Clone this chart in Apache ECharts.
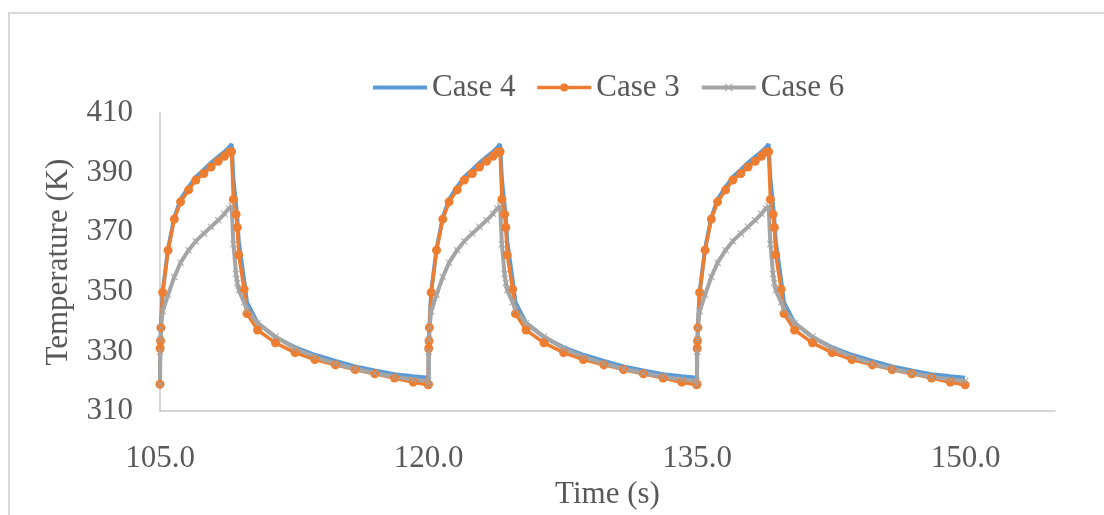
<!DOCTYPE html>
<html>
<head>
<meta charset="utf-8">
<script src="https://cdn.jsdelivr.net/npm/echarts/dist/echarts.min.js"></script>
<style>
  html, body { margin: 0; padding: 0; background: #fff; }
  #chart { width: 1104px; height: 515px; }
</style>
</head>
<body>
<div id="chart"></div>
<script>
// time (s), three heating cycles
const time = [
  105, 105.01, 105.03, 105.05, 105.15, 105.45, 105.8, 106.15, 106.6, 107, 107.45, 107.85, 108.25, 108.6, 108.85, 109,
  109.1, 109.25, 109.32, 109.4, 109.7, 109.86, 110.45, 111.45, 112.55, 113.65, 114.8, 115.9, 117, 118.1, 119.15, 119.98,
  120, 120.01, 120.03, 120.05, 120.15, 120.45, 120.8, 121.15, 121.6, 122, 122.45, 122.85, 123.25, 123.6, 123.85, 124,
  124.1, 124.25, 124.32, 124.4, 124.7, 124.86, 125.45, 126.45, 127.55, 128.65, 129.8, 130.9, 132, 133.1, 134.15, 134.98,
  135, 135.01, 135.03, 135.05, 135.15, 135.45, 135.8, 136.15, 136.6, 137, 137.45, 137.85, 138.25, 138.6, 138.85, 139,
  139.1, 139.25, 139.32, 139.4, 139.7, 139.86, 140.45, 141.45, 142.55, 143.65, 144.8, 145.9, 147, 148.1, 149.15, 149.98
]

const case4 = [
  319.0, 331.0, 333.5, 338.5, 350.0, 364.5, 375.0, 381.0, 385.2, 388.5, 391.0, 393.3, 395.3, 397.0, 398.4, 399.6,
  388.0, 379.0, 374.5, 367.0, 354.0, 346.5, 339.6, 334.8, 331.4, 328.9, 326.8, 325.0, 323.6, 322.4, 321.7, 321.2,
  319.0, 331.0, 333.5, 338.5, 350.0, 364.5, 375.0, 381.0, 385.2, 388.5, 391.0, 393.3, 395.3, 397.0, 398.4, 399.6,
  388.0, 379.0, 374.5, 367.0, 354.0, 346.5, 339.6, 334.8, 331.4, 328.9, 326.8, 325.0, 323.6, 322.4, 321.7, 321.2,
  319.0, 331.0, 333.5, 338.5, 350.0, 364.5, 375.0, 381.0, 385.2, 388.5, 391.0, 393.3, 395.3, 397.0, 398.4, 399.6,
  388.0, 379.0, 374.5, 367.0, 354.0, 346.5, 339.6, 334.8, 331.4, 328.9, 326.8, 325.0, 323.6, 322.4, 321.7, 321.2
]

const case3 = [
  319.0, 331.0, 333.5, 338.0, 349.8, 364.0, 374.4, 380.2, 384.2, 387.5, 389.7, 391.9, 393.8, 395.5, 396.8, 397.0,
  381.0, 376.0, 371.6, 362.4, 350.9, 342.7, 337.2, 332.9, 329.6, 327.3, 325.5, 323.9, 322.5, 321.1, 319.7, 318.8,
  319.0, 331.0, 333.5, 338.0, 349.8, 364.0, 374.4, 380.2, 384.2, 387.5, 389.7, 391.9, 393.8, 395.5, 396.8, 397.0,
  381.0, 376.0, 371.6, 362.4, 350.9, 342.7, 337.2, 332.9, 329.6, 327.3, 325.5, 323.9, 322.5, 321.1, 319.7, 318.8,
  319.0, 331.0, 333.5, 338.0, 349.8, 364.0, 374.4, 380.2, 384.2, 387.5, 389.7, 391.9, 393.8, 395.5, 396.8, 397.0,
  381.0, 376.0, 371.6, 362.4, 350.9, 342.7, 337.2, 332.9, 329.6, 327.3, 325.5, 323.9, 322.5, 321.1, 319.7, 318.8
]

const case6 = [
  319.0, 330.0, 334.0, 338.0, 343.5, 349.0, 355.0, 359.8, 364.0, 367.0, 369.6, 371.8, 374.0, 376.2, 378.0, 378.8,
  366.0, 356.0, 353.0, 350.5, 346.5, 344.0, 339.5, 335.0, 331.0, 328.2, 325.9, 324.2, 322.8, 321.5, 320.6, 320.1,
  319.0, 330.0, 334.0, 338.0, 343.5, 349.0, 355.0, 359.8, 364.0, 367.0, 369.6, 371.8, 374.0, 376.2, 378.0, 378.8,
  366.0, 356.0, 353.0, 350.5, 346.5, 344.0, 339.5, 335.0, 331.0, 328.2, 325.9, 324.2, 322.8, 321.5, 320.6, 320.1,
  319.0, 330.0, 334.0, 338.0, 343.5, 349.0, 355.0, 359.8, 364.0, 367.0, 369.6, 371.8, 374.0, 376.2, 378.0, 378.8,
  366.0, 356.0, 353.0, 350.5, 346.5, 344.0, 339.5, 335.0, 331.0, 328.2, 325.9, 324.2, 322.8, 321.5, 320.6, 320.1
]

const seriesNames = ['Case 4', 'Case 3', 'Case 6']
const xTicks = { min: 105, max: 155, step: 15 }
const yTicks = { min: 310, max: 410, step: 20 }

const font = 'Liberation Serif'
const textColor = '#595959'
const axisColor = '#c9c9c9'
const crossPath = 'path://M0,1L1,0L5,4L9,0L10,1L6,5L10,9L9,10L5,6L1,10L0,9L4,5Z'
// plain line for the legend of the series drawn without markers
const barePath = 'path://M0,0H54V4H0Z'

const pairs = vals => time.map((t, i) => [t, vals[i]])

const chart = echarts.init(document.getElementById('chart'), null, { renderer: 'canvas' })

chart.setOption({
  animation: false,
  backgroundColor: '#ffffff',
  textStyle: { fontFamily: font },
  graphic: [{
    type: 'rect',
    shape: { x: 9, y: 13, width: 1200, height: 600 },
    style: { fill: 'none', stroke: '#d9d9d9', lineWidth: 2 },
    silent: true
  }],
  legend: {
    data: [
      { name: seriesNames[0], icon: barePath },
      { name: seriesNames[1] },
      { name: seriesNames[2] }
    ],
    left: 368,
    top: 67,
    itemWidth: 54,
    itemHeight: 10,
    itemGap: 20,
    symbolKeepAspect: true,
    lineStyle: { width: 'inherit' },
    textStyle: { fontFamily: font, fontSize: 31, color: textColor }
  },
  grid: {
    left: 160,
    right: 49,
    top: 113,
    bottom: 97,
    containLabel: false
  },
  xAxis: {
    type: 'value',
    min: xTicks.min,
    max: xTicks.max,
    interval: xTicks.step,
    name: 'Time (s)',
    nameLocation: 'middle',
    nameGap: 66,
    nameTextStyle: { fontFamily: font, fontSize: 31, color: textColor },
    axisLine: { show: true, lineStyle: { color: axisColor, width: 1.5 } },
    axisTick: { show: false },
    splitLine: { show: false },
    axisLabel: {
      fontFamily: font,
      fontSize: 31,
      color: textColor,
      margin: 32,
      showMaxLabel: false,
      formatter: v => v.toFixed(1)
    }
  },
  yAxis: {
    type: 'value',
    min: yTicks.min,
    max: yTicks.max,
    interval: yTicks.step,
    name: 'Temperature (K)',
    nameLocation: 'middle',
    nameGap: 86,
    nameTextStyle: { fontFamily: font, fontSize: 31, color: textColor },
    axisLine: { show: true, lineStyle: { color: axisColor, width: 1.5 } },
    axisTick: { show: false },
    splitLine: { show: false },
    axisLabel: { fontFamily: font, fontSize: 31, color: textColor, margin: 27 }
  },
  series: [
    {
      name: 'Case 4',
      type: 'line',
      data: pairs(case4),
      symbol: 'none',
      lineStyle: { color: '#5b9bd5', width: 4 },
      itemStyle: { color: '#5b9bd5' }
    },
    {
      name: 'Case 3',
      type: 'line',
      data: pairs(case3),
      symbol: 'circle',
      symbolSize: 9,
      lineStyle: { color: '#ed7d31', width: 3.5 },
      itemStyle: { color: '#ed7d31' }
    },
    {
      name: 'Case 6',
      type: 'line',
      data: pairs(case6),
      symbol: crossPath,
      symbolSize: 7,
      lineStyle: { color: '#a5a5a5', width: 4 },
      itemStyle: { color: '#a5a5a5' }
    }
  ]
})
</script>
</body>
</html>
